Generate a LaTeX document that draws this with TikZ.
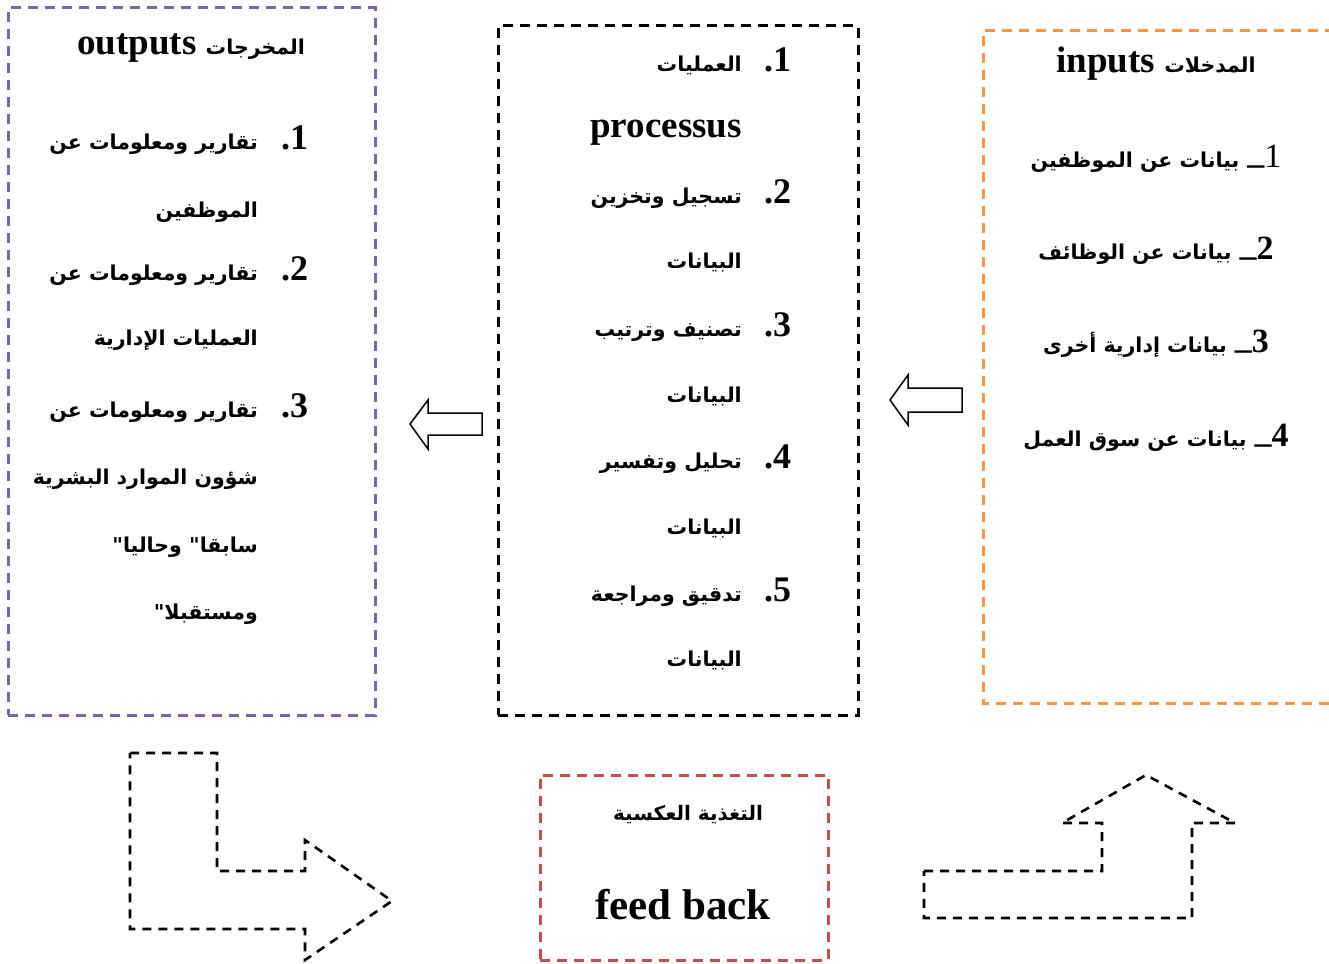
\documentclass[tikz,border=0pt]{standalone}
\usepackage{fontspec}
\setmainfont{Liberation Serif}
\newfontfamily\arfont[Script=Arabic]{DejaVu Sans}
\TeXXeTstate=1
\definecolor{outpurple}{HTML}{8064A2}
\definecolor{inorange}{HTML}{F79646}
\definecolor{fbred}{HTML}{C0504D}
\newcommand\arsz{\arfont\bfseries\fontsize{20.5}{24}\selectfont}
\newcommand\arsm{\arfont\bfseries\fontsize{20}{24}\selectfont}
\begin{document}
\begin{tikzpicture}[x=1pt,y=-1pt,
  ar/.style={font=\arsz, inner sep=0pt, anchor=base east},
  num/.style={font=\bfseries\fontsize{36}{40}\selectfont, inner sep=0pt, anchor=base west},
  lat/.style={font=\bfseries\fontsize{37}{42}\selectfont, inner sep=0pt, anchor=base},
  inl/.style={font=\bfseries\fontsize{34}{40}\selectfont, inner sep=0pt, anchor=base},
  dbox/.style={dash pattern=on 10pt off 7pt, line width=3pt},
  hollow/.style={draw, line width=1.5pt, line join=miter, fill=white}]
\useasboundingbox (0,0) rectangle (1329,963);

% boxes
\node[dbox, draw=outpurple, minimum width=367pt, minimum height=707pt, inner sep=0pt] (outbox) at (191.5,361.5) {};
\node[dbox, draw=black, minimum width=360pt, minimum height=689pt, inner sep=0pt] (procbox) at (678,370.5) {};
\node[dbox, draw=fbred, minimum width=288pt, minimum height=185pt, inner sep=0pt] (fbbox) at (684,867.5) {};
\draw[dbox, draw=inorange] (1335,31) -- (983,31) -- (983,703) -- (1335,703);
\coordinate (inbox) at (1156,367);

% outputs text
\node[lat] (outtitle) at (191,55) {outputs {\arsz\beginR المخرجات\endR}};
\node[num] (on1) at (281,149) {.1};
\node[ar] (o1a) at (258,149) {\beginR تقارير ومعلومات عن\endR};
\node[ar] (o1b) at (258,217) {\beginR الموظفين\endR};
\node[num] (on2) at (281,280) {.2};
\node[ar] (o2a) at (258,280) {\beginR تقارير ومعلومات عن\endR};
\node[ar] (o2b) at (258,345) {\beginR العمليات الإدارية\endR};
\node[num] (on3) at (281,417) {.3};
\node[ar] (o3a) at (258,417) {\beginR تقارير ومعلومات عن\endR};
\node[ar] (o3b) at (258,484) {\beginR شؤون الموارد البشرية\endR};
\node[ar] (o3c) at (258,552) {\beginR سابقا" وحاليا"\endR};
\node[ar] (o3d) at (258,619) {\beginR ومستقبلا"\endR};

% process text
\node[num] (pn1) at (764,72) {.1};
\node[ar] (p1a) at (742,72) {\beginR العمليات\endR};
\node[lat, anchor=base east] (p1b) at (742,137) {processus};
\node[num] (pn2) at (764,203) {.2};
\node[ar] (p2a) at (742,203) {\beginR تسجيل وتخزين\endR};
\node[ar] (p2b) at (742,268) {\beginR البيانات\endR};
\node[num] (pn3) at (764,336) {.3};
\node[ar] (p3a) at (742,336) {\beginR تصنيف وترتيب\endR};
\node[ar] (p3b) at (742,402) {\beginR البيانات\endR};
\node[num] (pn4) at (764,468) {.4};
\node[ar] (p4a) at (742,468) {\beginR تحليل وتفسير\endR};
\node[ar] (p4b) at (742,534) {\beginR البيانات\endR};
\node[num] (pn5) at (764,601) {.5};
\node[ar] (p5a) at (742,601) {\beginR تدقيق ومراجعة\endR};
\node[ar] (p5b) at (742,666) {\beginR البيانات\endR};

% inputs text
\node[lat] (intitle) at (1156,73) {inputs {\arsz\beginR المدخلات\endR}};
\node[inl] (i1) at (1156,167) {{\arsz\beginR بيانات عن الموظفين\endR}\hspace{8pt}\raisebox{4pt}{\_}{\mdseries 1}};
\node[inl] (i2) at (1156,259) {{\arsz\beginR بيانات عن الوظائف\endR}\hspace{8pt}\raisebox{4pt}{\_}2};
\node[inl] (i3) at (1156,352) {{\arsz\beginR بيانات إدارية أخرى\endR}\hspace{8pt}\raisebox{4pt}{\_}3};
\node[inl] (i4) at (1156,446) {{\arsz\beginR بيانات عن سوق العمل\endR}\hspace{8pt}\raisebox{4pt}{\_}4};

% feedback text
\node[ar, font=\arsm, anchor=base] (fb1) at (688,820) {\beginR التغذية العكسية\endR};
\node[lat, font=\bfseries\fontsize{43}{48}\selectfont] (fb2) at (683,919) {feed back};

% hollow arrows
\draw[hollow] (482,413) -- (428,413) -- (428,400) -- (410,424) -- (428,449) -- (428,435) -- (482,435) -- cycle;
\draw[hollow] (962,388) -- (908,388) -- (908,375) -- (890,400) -- (908,425) -- (908,412) -- (962,412) -- cycle;

% dashed bent arrows
\draw[dbox, line width=2.6pt, dash pattern=on 9pt off 7pt] (130,753) -- (217,753) -- (217,871) -- (305,871) -- (305,840) -- (392,901) -- (305,960) -- (305,929) -- (130,929) -- cycle;
\draw[dbox, line width=2.6pt, dash pattern=on 9pt off 7pt] (924,871) -- (1102,871) -- (1102,823) -- (1062,823) -- (1146,775) -- (1235,823) -- (1192,823) -- (1192,918) -- (924,918) -- cycle;
\end{tikzpicture}
\end{document}
